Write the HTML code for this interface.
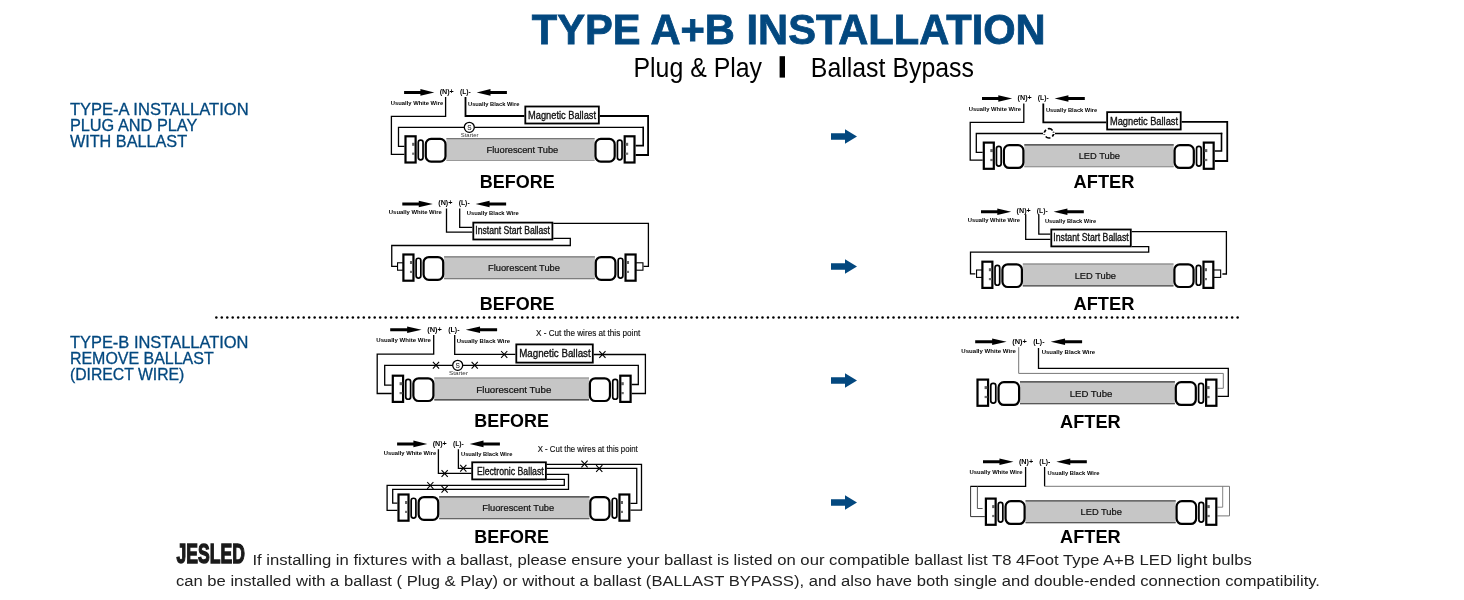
<!DOCTYPE html>
<html><head><meta charset="utf-8"><title>Type A+B Installation</title>
<style>
html,body{margin:0;padding:0;background:#fff;}
body{width:1464px;height:600px;overflow:hidden;position:relative;font-family:"Liberation Sans",sans-serif;}
svg{position:absolute;left:0;top:0;display:block;will-change:transform;}
svg text{font-family:"Liberation Sans",sans-serif;}
</style></head><body>
<svg width="1464" height="600" viewBox="0 0 1464 600">
<rect width="1464" height="600" fill="#fff"/>

<text x="531.7" y="44.2" font-size="42.3" font-weight="bold" fill="#03487f" textLength="514" lengthAdjust="spacingAndGlyphs" stroke="#03487f" stroke-width="0.8">TYPE A+B INSTALLATION</text>
<text x="633.5" y="77" font-size="27.5" fill="#000" textLength="128.5" lengthAdjust="spacingAndGlyphs">Plug &amp; Play</text>
<rect x="779.6" y="56.2" width="5.4" height="21.4" fill="#000"/>
<text x="810.8" y="77" font-size="27.5" fill="#000" textLength="163.2" lengthAdjust="spacingAndGlyphs">Ballast Bypass</text>
<text x="69.9" y="114.8" font-size="16.4" fill="#03487f" textLength="178.7" lengthAdjust="spacingAndGlyphs" stroke="#03487f" stroke-width="0.3">TYPE-A INSTALLATION</text>
<text x="69.9" y="130.85" font-size="16.4" fill="#03487f" textLength="127.5" lengthAdjust="spacingAndGlyphs" stroke="#03487f" stroke-width="0.3">PLUG AND PLAY</text>
<text x="69.9" y="146.9" font-size="16.4" fill="#03487f" textLength="117.2" lengthAdjust="spacingAndGlyphs" stroke="#03487f" stroke-width="0.3">WITH BALLAST</text>
<text x="69.9" y="347.8" font-size="16.4" fill="#03487f" textLength="178.6" lengthAdjust="spacingAndGlyphs" stroke="#03487f" stroke-width="0.3">TYPE-B INSTALLATION</text>
<text x="69.9" y="363.85" font-size="16.4" fill="#03487f" textLength="143.8" lengthAdjust="spacingAndGlyphs" stroke="#03487f" stroke-width="0.3">REMOVE BALLAST</text>
<text x="69.9" y="379.9" font-size="16.4" fill="#03487f" textLength="114.4" lengthAdjust="spacingAndGlyphs" stroke="#03487f" stroke-width="0.3">(DIRECT WIRE)</text>
<g fill="#000"><circle cx="216.33" cy="317.4" r="1.25"/><circle cx="221.79" cy="317.4" r="1.25"/><circle cx="227.25" cy="317.4" r="1.25"/><circle cx="232.71" cy="317.4" r="1.25"/><circle cx="238.18" cy="317.4" r="1.25"/><circle cx="243.64" cy="317.4" r="1.25"/><circle cx="249.1" cy="317.4" r="1.25"/><circle cx="254.56" cy="317.4" r="1.25"/><circle cx="260.02" cy="317.4" r="1.25"/><circle cx="265.48" cy="317.4" r="1.25"/><circle cx="270.94" cy="317.4" r="1.25"/><circle cx="276.4" cy="317.4" r="1.25"/><circle cx="281.87" cy="317.4" r="1.25"/><circle cx="287.33" cy="317.4" r="1.25"/><circle cx="292.79" cy="317.4" r="1.25"/><circle cx="298.25" cy="317.4" r="1.25"/><circle cx="303.71" cy="317.4" r="1.25"/><circle cx="309.17" cy="317.4" r="1.25"/><circle cx="314.63" cy="317.4" r="1.25"/><circle cx="320.1" cy="317.4" r="1.25"/><circle cx="325.56" cy="317.4" r="1.25"/><circle cx="331.02" cy="317.4" r="1.25"/><circle cx="336.48" cy="317.4" r="1.25"/><circle cx="341.94" cy="317.4" r="1.25"/><circle cx="347.4" cy="317.4" r="1.25"/><circle cx="352.86" cy="317.4" r="1.25"/><circle cx="358.32" cy="317.4" r="1.25"/><circle cx="363.79" cy="317.4" r="1.25"/><circle cx="369.25" cy="317.4" r="1.25"/><circle cx="374.71" cy="317.4" r="1.25"/><circle cx="380.17" cy="317.4" r="1.25"/><circle cx="385.63" cy="317.4" r="1.25"/><circle cx="391.09" cy="317.4" r="1.25"/><circle cx="396.55" cy="317.4" r="1.25"/><circle cx="402.02" cy="317.4" r="1.25"/><circle cx="407.48" cy="317.4" r="1.25"/><circle cx="412.94" cy="317.4" r="1.25"/><circle cx="418.4" cy="317.4" r="1.25"/><circle cx="423.86" cy="317.4" r="1.25"/><circle cx="429.32" cy="317.4" r="1.25"/><circle cx="434.78" cy="317.4" r="1.25"/><circle cx="440.24" cy="317.4" r="1.25"/><circle cx="445.71" cy="317.4" r="1.25"/><circle cx="451.17" cy="317.4" r="1.25"/><circle cx="456.63" cy="317.4" r="1.25"/><circle cx="462.09" cy="317.4" r="1.25"/><circle cx="467.55" cy="317.4" r="1.25"/><circle cx="473.01" cy="317.4" r="1.25"/><circle cx="478.47" cy="317.4" r="1.25"/><circle cx="483.94" cy="317.4" r="1.25"/><circle cx="489.4" cy="317.4" r="1.25"/><circle cx="494.86" cy="317.4" r="1.25"/><circle cx="500.32" cy="317.4" r="1.25"/><circle cx="505.78" cy="317.4" r="1.25"/><circle cx="511.24" cy="317.4" r="1.25"/><circle cx="516.7" cy="317.4" r="1.25"/><circle cx="522.16" cy="317.4" r="1.25"/><circle cx="527.63" cy="317.4" r="1.25"/><circle cx="533.09" cy="317.4" r="1.25"/><circle cx="538.55" cy="317.4" r="1.25"/><circle cx="544.01" cy="317.4" r="1.25"/><circle cx="549.47" cy="317.4" r="1.25"/><circle cx="554.93" cy="317.4" r="1.25"/><circle cx="560.39" cy="317.4" r="1.25"/><circle cx="565.86" cy="317.4" r="1.25"/><circle cx="571.32" cy="317.4" r="1.25"/><circle cx="576.78" cy="317.4" r="1.25"/><circle cx="582.24" cy="317.4" r="1.25"/><circle cx="587.7" cy="317.4" r="1.25"/><circle cx="593.16" cy="317.4" r="1.25"/><circle cx="598.62" cy="317.4" r="1.25"/><circle cx="604.08" cy="317.4" r="1.25"/><circle cx="609.55" cy="317.4" r="1.25"/><circle cx="615.01" cy="317.4" r="1.25"/><circle cx="620.47" cy="317.4" r="1.25"/><circle cx="625.93" cy="317.4" r="1.25"/><circle cx="631.39" cy="317.4" r="1.25"/><circle cx="636.85" cy="317.4" r="1.25"/><circle cx="642.31" cy="317.4" r="1.25"/><circle cx="647.78" cy="317.4" r="1.25"/><circle cx="653.24" cy="317.4" r="1.25"/><circle cx="658.7" cy="317.4" r="1.25"/><circle cx="664.16" cy="317.4" r="1.25"/><circle cx="669.62" cy="317.4" r="1.25"/><circle cx="675.08" cy="317.4" r="1.25"/><circle cx="680.54" cy="317.4" r="1.25"/><circle cx="686" cy="317.4" r="1.25"/><circle cx="691.47" cy="317.4" r="1.25"/><circle cx="696.93" cy="317.4" r="1.25"/><circle cx="702.39" cy="317.4" r="1.25"/><circle cx="707.85" cy="317.4" r="1.25"/><circle cx="713.31" cy="317.4" r="1.25"/><circle cx="718.77" cy="317.4" r="1.25"/><circle cx="724.23" cy="317.4" r="1.25"/><circle cx="729.7" cy="317.4" r="1.25"/><circle cx="735.16" cy="317.4" r="1.25"/><circle cx="740.62" cy="317.4" r="1.25"/><circle cx="746.08" cy="317.4" r="1.25"/><circle cx="751.54" cy="317.4" r="1.25"/><circle cx="757" cy="317.4" r="1.25"/><circle cx="762.46" cy="317.4" r="1.25"/><circle cx="767.93" cy="317.4" r="1.25"/><circle cx="773.39" cy="317.4" r="1.25"/><circle cx="778.85" cy="317.4" r="1.25"/><circle cx="784.31" cy="317.4" r="1.25"/><circle cx="789.77" cy="317.4" r="1.25"/><circle cx="795.23" cy="317.4" r="1.25"/><circle cx="800.69" cy="317.4" r="1.25"/><circle cx="806.15" cy="317.4" r="1.25"/><circle cx="811.62" cy="317.4" r="1.25"/><circle cx="817.08" cy="317.4" r="1.25"/><circle cx="822.54" cy="317.4" r="1.25"/><circle cx="828" cy="317.4" r="1.25"/><circle cx="833.46" cy="317.4" r="1.25"/><circle cx="838.92" cy="317.4" r="1.25"/><circle cx="844.38" cy="317.4" r="1.25"/><circle cx="849.85" cy="317.4" r="1.25"/><circle cx="855.31" cy="317.4" r="1.25"/><circle cx="860.77" cy="317.4" r="1.25"/><circle cx="866.23" cy="317.4" r="1.25"/><circle cx="871.69" cy="317.4" r="1.25"/><circle cx="877.15" cy="317.4" r="1.25"/><circle cx="882.61" cy="317.4" r="1.25"/><circle cx="888.07" cy="317.4" r="1.25"/><circle cx="893.54" cy="317.4" r="1.25"/><circle cx="899" cy="317.4" r="1.25"/><circle cx="904.46" cy="317.4" r="1.25"/><circle cx="909.92" cy="317.4" r="1.25"/><circle cx="915.38" cy="317.4" r="1.25"/><circle cx="920.84" cy="317.4" r="1.25"/><circle cx="926.3" cy="317.4" r="1.25"/><circle cx="931.77" cy="317.4" r="1.25"/><circle cx="937.23" cy="317.4" r="1.25"/><circle cx="942.69" cy="317.4" r="1.25"/><circle cx="948.15" cy="317.4" r="1.25"/><circle cx="953.61" cy="317.4" r="1.25"/><circle cx="959.07" cy="317.4" r="1.25"/><circle cx="964.53" cy="317.4" r="1.25"/><circle cx="969.99" cy="317.4" r="1.25"/><circle cx="975.46" cy="317.4" r="1.25"/><circle cx="980.92" cy="317.4" r="1.25"/><circle cx="986.38" cy="317.4" r="1.25"/><circle cx="991.84" cy="317.4" r="1.25"/><circle cx="997.3" cy="317.4" r="1.25"/><circle cx="1002.76" cy="317.4" r="1.25"/><circle cx="1008.22" cy="317.4" r="1.25"/><circle cx="1013.69" cy="317.4" r="1.25"/><circle cx="1019.15" cy="317.4" r="1.25"/><circle cx="1024.61" cy="317.4" r="1.25"/><circle cx="1030.07" cy="317.4" r="1.25"/><circle cx="1035.53" cy="317.4" r="1.25"/><circle cx="1040.99" cy="317.4" r="1.25"/><circle cx="1046.45" cy="317.4" r="1.25"/><circle cx="1051.91" cy="317.4" r="1.25"/><circle cx="1057.38" cy="317.4" r="1.25"/><circle cx="1062.84" cy="317.4" r="1.25"/><circle cx="1068.3" cy="317.4" r="1.25"/><circle cx="1073.76" cy="317.4" r="1.25"/><circle cx="1079.22" cy="317.4" r="1.25"/><circle cx="1084.68" cy="317.4" r="1.25"/><circle cx="1090.14" cy="317.4" r="1.25"/><circle cx="1095.61" cy="317.4" r="1.25"/><circle cx="1101.07" cy="317.4" r="1.25"/><circle cx="1106.53" cy="317.4" r="1.25"/><circle cx="1111.99" cy="317.4" r="1.25"/><circle cx="1117.45" cy="317.4" r="1.25"/><circle cx="1122.91" cy="317.4" r="1.25"/><circle cx="1128.37" cy="317.4" r="1.25"/><circle cx="1133.83" cy="317.4" r="1.25"/><circle cx="1139.3" cy="317.4" r="1.25"/><circle cx="1144.76" cy="317.4" r="1.25"/><circle cx="1150.22" cy="317.4" r="1.25"/><circle cx="1155.68" cy="317.4" r="1.25"/><circle cx="1161.14" cy="317.4" r="1.25"/><circle cx="1166.6" cy="317.4" r="1.25"/><circle cx="1172.06" cy="317.4" r="1.25"/><circle cx="1177.53" cy="317.4" r="1.25"/><circle cx="1182.99" cy="317.4" r="1.25"/><circle cx="1188.45" cy="317.4" r="1.25"/><circle cx="1193.91" cy="317.4" r="1.25"/><circle cx="1199.37" cy="317.4" r="1.25"/><circle cx="1204.83" cy="317.4" r="1.25"/><circle cx="1210.29" cy="317.4" r="1.25"/><circle cx="1215.75" cy="317.4" r="1.25"/><circle cx="1221.22" cy="317.4" r="1.25"/><circle cx="1226.68" cy="317.4" r="1.25"/><circle cx="1232.14" cy="317.4" r="1.25"/><circle cx="1237.6" cy="317.4" r="1.25"/></g>
<path d="M831 133.2 H845 V129.25 L857 136.5 L845 143.75 V139.8 H831 Z" fill="#03487f"/>
<path d="M831 263.2 H845 V259.25 L857 266.5 L845 273.75 V269.8 H831 Z" fill="#03487f"/>
<path d="M831 377.2 H845 V373.25 L857 380.5 L845 387.75 V383.8 H831 Z" fill="#03487f"/>
<path d="M831 499.2 H845 V495.25 L857 502.5 L845 509.75 V505.8 H831 Z" fill="#03487f"/>
<path d="M445.6 97 L445.6 116.3 L391.4 116.3 L391.4 154.3 L404.4 154.3" fill="none" stroke="#000" stroke-width="1.3" stroke-linejoin="miter" stroke-linecap="butt"/>
<path d="M465.5 97 L465.5 116 L524.4 116" fill="none" stroke="#000" stroke-width="1.8" stroke-linejoin="miter" stroke-linecap="butt"/>
<path d="M599.75 116 L648.1 116 L648.1 155 L635.6 155" fill="none" stroke="#000" stroke-width="1.8" stroke-linejoin="miter" stroke-linecap="butt"/>
<path d="M404.4 146.3 L398.5 146.3 L398.5 127.4 L644 127.4" fill="none" stroke="#000" stroke-width="1.3" stroke-linejoin="miter" stroke-linecap="butt"/>
<path d="M643.2 126.75 L643.2 145.6 L635.6 145.6" fill="none" stroke="#000" stroke-width="1.6" stroke-linejoin="miter" stroke-linecap="butt"/>
<rect x="446.4" y="138.2" width="148.2" height="22.6" fill="#c6c6c6"/>
<line x1="446.4" y1="138.6" x2="594.6" y2="138.6" stroke="#777" stroke-width="1.2"/>
<line x1="446.4" y1="160.5" x2="594.6" y2="160.5" stroke="#999" stroke-width="1.1"/>
<rect x="405.5" y="136.3" width="10.12" height="26.2" fill="#fff" stroke="#000" stroke-width="2.2"/>
<rect x="412.12" y="142.8" width="2.8" height="3" fill="#606060"/>
<rect x="412.12" y="152.6" width="2.8" height="2.2" fill="#707070"/>
<rect x="418.27" y="140.05" width="4.76" height="19.8" rx="2.3" fill="#fff" stroke="#000" stroke-width="1.7"/>
<rect x="425.79" y="138.9" width="19.71" height="22.7" rx="5.3" fill="#fff" stroke="#000" stroke-width="2.2"/>
<rect x="624.68" y="136.3" width="9.82" height="26.2" fill="#fff" stroke="#000" stroke-width="2.2"/>
<rect x="625.38" y="142.8" width="2.8" height="3" fill="#606060"/>
<rect x="625.38" y="152.6" width="2.8" height="2.2" fill="#707070"/>
<rect x="617.43" y="140.05" width="4.61" height="19.8" rx="2.3" fill="#fff" stroke="#000" stroke-width="1.7"/>
<rect x="595.5" y="138.9" width="19.19" height="22.7" rx="5.3" fill="#fff" stroke="#000" stroke-width="2.2"/>
<text x="486.6" y="152.7" font-size="8.8" fill="#111" textLength="71.7" lengthAdjust="spacingAndGlyphs" stroke="#111" stroke-width="0.2">Fluorescent Tube</text>
<g transform="translate(404.1 92.4) scale(1 1)">
<path d="M0 -1.5 H16.3 V-3.3 L30.2 0 L16.3 3.3 V1.5 H0 Z" fill="#000"/>
<path d="M102.8 -1.5 H86.4 V-3.3 L72.6 0 L86.4 3.3 V1.5 H102.8 Z" fill="#000"/>
<text x="35.6" y="1.8" font-size="7.6" font-weight="bold" fill="#000" textLength="14.1" lengthAdjust="spacingAndGlyphs">(N)+</text>
<text x="55.8" y="1.8" font-size="7.6" font-weight="bold" fill="#000" textLength="10.9" lengthAdjust="spacingAndGlyphs">(L)-</text>
<text x="-13.3" y="12.7" font-size="5.9" font-weight="bold" fill="#000" textLength="52.4" lengthAdjust="spacingAndGlyphs">Usually White Wire</text>
<text x="63.9" y="13.5" font-size="5.9" font-weight="bold" fill="#000" textLength="51.4" lengthAdjust="spacingAndGlyphs">Usually Black Wire</text>
</g>
<rect x="525.3" y="106.5" width="73.55" height="17" fill="#fff" stroke="#000" stroke-width="1.8"/>
<text x="528.1" y="118.75" font-size="11" fill="#111" textLength="67.9" lengthAdjust="spacingAndGlyphs" stroke="#111" stroke-width="0.35">Magnetic Ballast</text>
<circle cx="469.3" cy="127.3" r="5" fill="#fff" stroke="#000" stroke-width="1.3"/>
<text x="469.3" y="129.6" font-size="6.5" fill="#000" text-anchor="middle">S</text>
<text x="460.8" y="136.6" font-size="5.2" fill="#333" textLength="17.7" lengthAdjust="spacingAndGlyphs">Starter</text>
<text x="479.8" y="188.4" font-size="19.2" font-weight="bold" fill="#000" textLength="74.9" lengthAdjust="spacingAndGlyphs">BEFORE</text>
<path d="M1023.8 103.5 L1023.8 122.3 L970.2 122.3 L970.2 160.1 L982.7 160.1" fill="none" stroke="#000" stroke-width="1.3" stroke-linejoin="miter" stroke-linecap="butt"/>
<path d="M1043.3 103.5 L1043.3 122.3 L1106.25 122.3" fill="none" stroke="#000" stroke-width="1.8" stroke-linejoin="miter" stroke-linecap="butt"/>
<path d="M1181.6 121.9 L1227.25 121.9 L1227.25 161 L1214.75 161" fill="none" stroke="#000" stroke-width="1.8" stroke-linejoin="miter" stroke-linecap="butt"/>
<path d="M982.7 152.3 L976.3 152.3 L976.3 133.5 L1222.3 133.5" fill="none" stroke="#000" stroke-width="1.3" stroke-linejoin="miter" stroke-linecap="butt"/>
<path d="M1221.5 132.85 L1221.5 151 L1214.75 151" fill="none" stroke="#000" stroke-width="1.6" stroke-linejoin="miter" stroke-linecap="butt"/>
<rect x="1024.3" y="144.5" width="149.4" height="22.6" fill="#c6c6c6"/>
<line x1="1024.3" y1="144.9" x2="1173.7" y2="144.9" stroke="#333" stroke-width="1.2"/>
<line x1="1024.3" y1="166.8" x2="1173.7" y2="166.8" stroke="#888" stroke-width="1.1"/>
<rect x="983.8" y="142.6" width="10" height="26.2" fill="#fff" stroke="#000" stroke-width="2.2"/>
<rect x="990.3" y="149.1" width="2.8" height="3" fill="#606060"/>
<rect x="990.3" y="158.9" width="2.8" height="2.2" fill="#707070"/>
<rect x="996.45" y="146.35" width="4.7" height="19.8" rx="2.3" fill="#fff" stroke="#000" stroke-width="1.7"/>
<rect x="1003.9" y="145.2" width="19.5" height="22.7" rx="5.3" fill="#fff" stroke="#000" stroke-width="2.2"/>
<rect x="1203.81" y="142.6" width="9.84" height="26.2" fill="#fff" stroke="#000" stroke-width="2.2"/>
<rect x="1204.51" y="149.1" width="2.8" height="3" fill="#606060"/>
<rect x="1204.51" y="158.9" width="2.8" height="2.2" fill="#707070"/>
<rect x="1196.55" y="146.35" width="4.62" height="19.8" rx="2.3" fill="#fff" stroke="#000" stroke-width="1.7"/>
<rect x="1174.6" y="145.2" width="19.21" height="22.7" rx="5.3" fill="#fff" stroke="#000" stroke-width="2.2"/>
<text x="1078.7" y="158.9" font-size="8.8" fill="#111" textLength="41.3" lengthAdjust="spacingAndGlyphs" stroke="#111" stroke-width="0.2">LED Tube</text>
<g transform="translate(982 98.5) scale(1 1)">
<path d="M0 -1.5 H16.3 V-3.3 L30.2 0 L16.3 3.3 V1.5 H0 Z" fill="#000"/>
<path d="M102.8 -1.5 H86.4 V-3.3 L72.6 0 L86.4 3.3 V1.5 H102.8 Z" fill="#000"/>
<text x="35.6" y="1.8" font-size="7.6" font-weight="bold" fill="#000" textLength="14.1" lengthAdjust="spacingAndGlyphs">(N)+</text>
<text x="55.8" y="1.8" font-size="7.6" font-weight="bold" fill="#000" textLength="10.9" lengthAdjust="spacingAndGlyphs">(L)-</text>
<text x="-13.3" y="12.3" font-size="5.9" font-weight="bold" fill="#000" textLength="52.4" lengthAdjust="spacingAndGlyphs">Usually White Wire</text>
<text x="63.9" y="13.2" font-size="5.9" font-weight="bold" fill="#000" textLength="51.4" lengthAdjust="spacingAndGlyphs">Usually Black Wire</text>
</g>
<rect x="1107.15" y="112.15" width="73.55" height="17.35" fill="#fff" stroke="#000" stroke-width="1.8"/>
<text x="1110" y="124.6" font-size="11" fill="#111" textLength="68" lengthAdjust="spacingAndGlyphs" stroke="#111" stroke-width="0.35">Magnetic Ballast</text>
<circle cx="1049" cy="133.3" r="4.6" fill="#fff" stroke="#000" stroke-width="1.6" stroke-dasharray="5 2.2" transform="rotate(-20 1049 133.3)"/>
<rect x="1043" y="132.6" width="12" height="1.4" fill="#fff"/>
<text x="1073.6" y="188.4" font-size="19.2" font-weight="bold" fill="#000" textLength="60.8" lengthAdjust="spacingAndGlyphs">AFTER</text>
<path d="M446.5 208.5 L446.5 232.2 L472.3 232.2" fill="none" stroke="#000" stroke-width="1.3" stroke-linejoin="miter" stroke-linecap="butt"/>
<path d="M459.7 208.5 L459.7 227.3 L472.3 227.3" fill="none" stroke="#000" stroke-width="1.3" stroke-linejoin="miter" stroke-linecap="butt"/>
<path d="M553.3 223.3 L648.4 223.3 L648.4 266.3 L643.5 266.3" fill="none" stroke="#000" stroke-width="1.3" stroke-linejoin="miter" stroke-linecap="butt"/>
<path d="M553.3 238.4 L570.3 238.4 L570.3 245.5 L391.75 245.5 L391.75 266.3 L397 266.3" fill="none" stroke="#000" stroke-width="1.3" stroke-linejoin="miter" stroke-linecap="butt"/>
<rect x="444.1" y="256.4" width="150.8" height="22.6" fill="#c6c6c6"/>
<line x1="444.1" y1="256.8" x2="594.9" y2="256.8" stroke="#777" stroke-width="1.2"/>
<line x1="444.1" y1="278.7" x2="594.9" y2="278.7" stroke="#666" stroke-width="1.1"/>
<rect x="403.4" y="254.5" width="10.06" height="26.2" fill="#fff" stroke="#000" stroke-width="2.2"/>
<rect x="409.96" y="261" width="2.8" height="3" fill="#606060"/>
<rect x="409.96" y="270.8" width="2.8" height="2.2" fill="#707070"/>
<rect x="416.11" y="258.25" width="4.73" height="19.8" rx="2.3" fill="#fff" stroke="#000" stroke-width="1.7"/>
<rect x="423.6" y="257.1" width="19.6" height="22.7" rx="5.3" fill="#fff" stroke="#000" stroke-width="2.2"/>
<rect x="625.54" y="254.5" width="10.06" height="26.2" fill="#fff" stroke="#000" stroke-width="2.2"/>
<rect x="626.24" y="261" width="2.8" height="3" fill="#606060"/>
<rect x="626.24" y="270.8" width="2.8" height="2.2" fill="#707070"/>
<rect x="618.16" y="258.25" width="4.73" height="19.8" rx="2.3" fill="#fff" stroke="#000" stroke-width="1.7"/>
<rect x="595.8" y="257.1" width="19.6" height="22.7" rx="5.3" fill="#fff" stroke="#000" stroke-width="2.2"/>
<rect x="397.55" y="262.8" width="5.3" height="7.4" fill="#fff" stroke="#000" stroke-width="1.1"/>
<rect x="636.15" y="262.8" width="6.8" height="7.4" fill="#fff" stroke="#000" stroke-width="1.1"/>
<text x="488" y="271" font-size="8.8" fill="#111" textLength="72" lengthAdjust="spacingAndGlyphs" stroke="#111" stroke-width="0.2">Fluorescent Tube</text>
<g transform="translate(402.3 204) scale(1.01 1)">
<path d="M0 -1.5 H16.3 V-3.3 L30.2 0 L16.3 3.3 V1.5 H0 Z" fill="#000"/>
<path d="M102.8 -1.5 H86.4 V-3.3 L72.6 0 L86.4 3.3 V1.5 H102.8 Z" fill="#000"/>
<text x="35.6" y="1.3" font-size="7.6" font-weight="bold" fill="#000" textLength="14.1" lengthAdjust="spacingAndGlyphs">(N)+</text>
<text x="55.8" y="1.3" font-size="7.6" font-weight="bold" fill="#000" textLength="10.9" lengthAdjust="spacingAndGlyphs">(L)-</text>
<text x="-13.3" y="10.4" font-size="5.9" font-weight="bold" fill="#000" textLength="52.4" lengthAdjust="spacingAndGlyphs">Usually White Wire</text>
<text x="63.9" y="11.1" font-size="5.9" font-weight="bold" fill="#000" textLength="51.4" lengthAdjust="spacingAndGlyphs">Usually Black Wire</text>
</g>
<rect x="473.3" y="222.6" width="79.1" height="16.9" fill="#fff" stroke="#000" stroke-width="1.8"/>
<text x="475.3" y="234" font-size="10.2" fill="#111" textLength="74.7" lengthAdjust="spacingAndGlyphs" stroke="#111" stroke-width="0.35">Instant Start Ballast</text>
<text x="479.8" y="310" font-size="19.2" font-weight="bold" fill="#000" textLength="74.8" lengthAdjust="spacingAndGlyphs">BEFORE</text>
<path d="M1025.7 214.3 L1025.7 239.3 L1050.4 239.3" fill="none" stroke="#000" stroke-width="1.3" stroke-linejoin="miter" stroke-linecap="butt"/>
<path d="M1038.8 214.3 L1038.8 234.2 L1050.4 234.2" fill="none" stroke="#000" stroke-width="1.3" stroke-linejoin="miter" stroke-linecap="butt"/>
<path d="M1131.7 231.7 L1226.4 231.7 L1226.4 274 L1222.4 274" fill="none" stroke="#000" stroke-width="1.3" stroke-linejoin="miter" stroke-linecap="butt"/>
<path d="M1131.7 246.7 L1148.7 246.7 L1148.7 252.2 L970.5 252.2 L970.5 273.8 L975.3 273.8" fill="none" stroke="#000" stroke-width="1.3" stroke-linejoin="miter" stroke-linecap="butt"/>
<rect x="1022.8" y="263.6" width="150.7" height="22.6" fill="#c6c6c6"/>
<line x1="1022.8" y1="264" x2="1173.5" y2="264" stroke="#777" stroke-width="1.2"/>
<line x1="1022.8" y1="285.9" x2="1173.5" y2="285.9" stroke="#444" stroke-width="1.1"/>
<rect x="982.4" y="261.7" width="9.97" height="26.2" fill="#fff" stroke="#000" stroke-width="2.2"/>
<rect x="988.87" y="268.2" width="2.8" height="3" fill="#606060"/>
<rect x="988.87" y="278" width="2.8" height="2.2" fill="#707070"/>
<rect x="995.02" y="265.45" width="4.68" height="19.8" rx="2.3" fill="#fff" stroke="#000" stroke-width="1.7"/>
<rect x="1002.45" y="264.3" width="19.45" height="22.7" rx="5.3" fill="#fff" stroke="#000" stroke-width="2.2"/>
<rect x="1203.5" y="261.7" width="9.8" height="26.2" fill="#fff" stroke="#000" stroke-width="2.2"/>
<rect x="1204.2" y="268.2" width="2.8" height="3" fill="#606060"/>
<rect x="1204.2" y="278" width="2.8" height="2.2" fill="#707070"/>
<rect x="1196.27" y="265.45" width="4.59" height="19.8" rx="2.3" fill="#fff" stroke="#000" stroke-width="1.7"/>
<rect x="1174.4" y="264.3" width="19.14" height="22.7" rx="5.3" fill="#fff" stroke="#000" stroke-width="2.2"/>
<rect x="976.55" y="270" width="5.3" height="7.4" fill="#fff" stroke="#000" stroke-width="1.1"/>
<rect x="1213.85" y="270" width="6.8" height="7.4" fill="#fff" stroke="#000" stroke-width="1.1"/>
<text x="1074.7" y="278.7" font-size="8.8" fill="#111" textLength="41.3" lengthAdjust="spacingAndGlyphs" stroke="#111" stroke-width="0.2">LED Tube</text>
<g transform="translate(981 211.7) scale(1 1)">
<path d="M0 -1.5 H16.3 V-3.3 L30.2 0 L16.3 3.3 V1.5 H0 Z" fill="#000"/>
<path d="M102.8 -1.5 H86.4 V-3.3 L72.6 0 L86.4 3.3 V1.5 H102.8 Z" fill="#000"/>
<text x="35.6" y="0.9" font-size="7.6" font-weight="bold" fill="#000" textLength="14.1" lengthAdjust="spacingAndGlyphs">(N)+</text>
<text x="55.8" y="0.9" font-size="7.6" font-weight="bold" fill="#000" textLength="10.9" lengthAdjust="spacingAndGlyphs">(L)-</text>
<text x="-13.3" y="10.2" font-size="5.9" font-weight="bold" fill="#000" textLength="52.4" lengthAdjust="spacingAndGlyphs">Usually White Wire</text>
<text x="63.9" y="11.1" font-size="5.9" font-weight="bold" fill="#000" textLength="51.4" lengthAdjust="spacingAndGlyphs">Usually Black Wire</text>
</g>
<rect x="1051.3" y="229.5" width="79.5" height="16.9" fill="#fff" stroke="#000" stroke-width="1.8"/>
<text x="1053.3" y="241" font-size="10.2" fill="#111" textLength="75.4" lengthAdjust="spacingAndGlyphs" stroke="#111" stroke-width="0.35">Instant Start Ballast</text>
<text x="1073.5" y="310.3" font-size="19.2" font-weight="bold" fill="#000" textLength="60.9" lengthAdjust="spacingAndGlyphs">AFTER</text>
<path d="M433.7 335 L433.7 354.2 L377.2 354.2 L377.2 393.5 L391.7 393.5" fill="none" stroke="#000" stroke-width="1.3" stroke-linejoin="miter" stroke-linecap="butt"/>
<path d="M454.7 335 L454.7 354.4 L515.4 354.4" fill="none" stroke="#000" stroke-width="1.3" stroke-linejoin="miter" stroke-linecap="butt"/>
<path d="M593.7 354.5 L645.4 354.5 L645.4 393.5 L631.7 393.5" fill="none" stroke="#000" stroke-width="1.3" stroke-linejoin="miter" stroke-linecap="butt"/>
<path d="M391.7 385.2 L384.7 385.2 L384.7 365.3 L638.3 365.3 L638.3 384.5 L631.7 384.5" fill="none" stroke="#000" stroke-width="1.3" stroke-linejoin="miter" stroke-linecap="butt"/>
<rect x="434.3" y="377.6" width="154.7" height="22.6" fill="#c6c6c6"/>
<line x1="434.3" y1="378" x2="589" y2="378" stroke="#888" stroke-width="1.2"/>
<line x1="434.3" y1="399.9" x2="589" y2="399.9" stroke="#333" stroke-width="1.1"/>
<rect x="392.8" y="375.7" width="10.29" height="26.2" fill="#fff" stroke="#000" stroke-width="2.2"/>
<rect x="399.59" y="382.2" width="2.8" height="3" fill="#606060"/>
<rect x="399.59" y="392" width="2.8" height="2.2" fill="#707070"/>
<rect x="405.76" y="379.45" width="4.85" height="19.8" rx="2.3" fill="#fff" stroke="#000" stroke-width="1.7"/>
<rect x="413.38" y="378.3" width="20.02" height="22.7" rx="5.3" fill="#fff" stroke="#000" stroke-width="2.2"/>
<rect x="620.28" y="375.7" width="10.32" height="26.2" fill="#fff" stroke="#000" stroke-width="2.2"/>
<rect x="620.98" y="382.2" width="2.8" height="3" fill="#606060"/>
<rect x="620.98" y="392" width="2.8" height="2.2" fill="#707070"/>
<rect x="612.74" y="379.45" width="4.87" height="19.8" rx="2.3" fill="#fff" stroke="#000" stroke-width="1.7"/>
<rect x="589.9" y="378.3" width="20.07" height="22.7" rx="5.3" fill="#fff" stroke="#000" stroke-width="2.2"/>
<text x="476.3" y="393" font-size="8.8" fill="#111" textLength="75" lengthAdjust="spacingAndGlyphs" stroke="#111" stroke-width="0.2">Fluorescent Tube</text>
<g transform="translate(390.2 329.75) scale(1.04 1)">
<path d="M0 -1.5 H16.3 V-3.3 L30.2 0 L16.3 3.3 V1.5 H0 Z" fill="#000"/>
<path d="M102.8 -1.5 H86.4 V-3.3 L72.6 0 L86.4 3.3 V1.5 H102.8 Z" fill="#000"/>
<text x="35.6" y="1.8" font-size="7.6" font-weight="bold" fill="#000" textLength="14.1" lengthAdjust="spacingAndGlyphs">(N)+</text>
<text x="55.8" y="1.8" font-size="7.6" font-weight="bold" fill="#000" textLength="10.9" lengthAdjust="spacingAndGlyphs">(L)-</text>
<text x="-13.3" y="12.25" font-size="5.9" font-weight="bold" fill="#000" textLength="52.4" lengthAdjust="spacingAndGlyphs">Usually White Wire</text>
<text x="63.9" y="13.35" font-size="5.9" font-weight="bold" fill="#000" textLength="51.4" lengthAdjust="spacingAndGlyphs">Usually Black Wire</text>
</g>
<rect x="516.3" y="344.4" width="76.5" height="18.2" fill="#fff" stroke="#000" stroke-width="1.8"/>
<text x="519.2" y="356.7" font-size="11" fill="#111" textLength="71.5" lengthAdjust="spacingAndGlyphs" stroke="#111" stroke-width="0.35">Magnetic Ballast</text>
<circle cx="457.7" cy="365.3" r="5" fill="#fff" stroke="#000" stroke-width="1.3"/>
<text x="457.7" y="367.6" font-size="6.5" fill="#000" text-anchor="middle">S</text>
<text x="449" y="374.6" font-size="5.2" fill="#333" textLength="19" lengthAdjust="spacingAndGlyphs">Starter</text>
<path d="M501.1 351 L507.3 357.8 M507.3 351 L501.1 357.8" stroke="#000" stroke-width="1.1" fill="none"/>
<path d="M599.3 351.1 L605.5 357.9 M605.5 351.1 L599.3 357.9" stroke="#000" stroke-width="1.1" fill="none"/>
<path d="M432.9 361.9 L439.1 368.7 M439.1 361.9 L432.9 368.7" stroke="#000" stroke-width="1.1" fill="none"/>
<path d="M471.6 361.9 L477.8 368.7 M477.8 361.9 L471.6 368.7" stroke="#000" stroke-width="1.1" fill="none"/>
<text x="536" y="335.6" font-size="8.6" fill="#111" textLength="104.2" lengthAdjust="spacingAndGlyphs" stroke="#111" stroke-width="0.15">X - Cut the wires at this point</text>
<text x="474.3" y="427.1" font-size="19.2" font-weight="bold" fill="#000" textLength="74.6" lengthAdjust="spacingAndGlyphs">BEFORE</text>
<path d="M1018.7 347.2 L1018.7 373.4 L1223.3 373.4 L1223.3 388.3 L1217.5 388.3" fill="none" stroke="#777" stroke-width="1" stroke-linejoin="miter" stroke-linecap="butt"/>
<path d="M1038.5 348 L1038.5 368.3 L1228.3 368.3 L1228.3 396.3 L1217.5 396.3" fill="none" stroke="#000" stroke-width="1.3" stroke-linejoin="miter" stroke-linecap="butt"/>
<rect x="1020" y="381.5" width="154.9" height="22.6" fill="#c6c6c6"/>
<line x1="1020" y1="381.9" x2="1174.9" y2="381.9" stroke="#333" stroke-width="1.2"/>
<line x1="1020" y1="403.8" x2="1174.9" y2="403.8" stroke="#333" stroke-width="1.1"/>
<rect x="977.5" y="379.6" width="10.58" height="26.2" fill="#fff" stroke="#000" stroke-width="2.2"/>
<rect x="984.58" y="386.1" width="2.8" height="3" fill="#606060"/>
<rect x="984.58" y="395.9" width="2.8" height="2.2" fill="#707070"/>
<rect x="990.77" y="383.35" width="5.01" height="19.8" rx="2.3" fill="#fff" stroke="#000" stroke-width="1.7"/>
<rect x="998.56" y="382.2" width="20.54" height="22.7" rx="5.3" fill="#fff" stroke="#000" stroke-width="2.2"/>
<rect x="1206.11" y="379.6" width="10.29" height="26.2" fill="#fff" stroke="#000" stroke-width="2.2"/>
<rect x="1206.81" y="386.1" width="2.8" height="3" fill="#606060"/>
<rect x="1206.81" y="395.9" width="2.8" height="2.2" fill="#707070"/>
<rect x="1198.59" y="383.35" width="4.85" height="19.8" rx="2.3" fill="#fff" stroke="#000" stroke-width="1.7"/>
<rect x="1175.8" y="382.2" width="20.02" height="22.7" rx="5.3" fill="#fff" stroke="#000" stroke-width="2.2"/>
<text x="1069.7" y="396.7" font-size="8.8" fill="#111" textLength="42.7" lengthAdjust="spacingAndGlyphs" stroke="#111" stroke-width="0.2">LED Tube</text>
<g transform="translate(975.2 341.7) scale(1.04 1)">
<path d="M0 -1.5 H16.3 V-3.3 L30.2 0 L16.3 3.3 V1.5 H0 Z" fill="#000"/>
<path d="M102.8 -1.5 H86.4 V-3.3 L72.6 0 L86.4 3.3 V1.5 H102.8 Z" fill="#000"/>
<text x="35.6" y="1.8" font-size="7.6" font-weight="bold" fill="#000" textLength="14.1" lengthAdjust="spacingAndGlyphs">(N)+</text>
<text x="55.8" y="1.8" font-size="7.6" font-weight="bold" fill="#000" textLength="10.9" lengthAdjust="spacingAndGlyphs">(L)-</text>
<text x="-13.3" y="11.1" font-size="5.9" font-weight="bold" fill="#000" textLength="52.4" lengthAdjust="spacingAndGlyphs">Usually White Wire</text>
<text x="63.9" y="12.1" font-size="5.9" font-weight="bold" fill="#000" textLength="51.4" lengthAdjust="spacingAndGlyphs">Usually Black Wire</text>
</g>
<text x="1060.1" y="428.4" font-size="19.2" font-weight="bold" fill="#000" textLength="60.6" lengthAdjust="spacingAndGlyphs">AFTER</text>
<path d="M438.4 449.3 L438.4 473.3 L471.5 473.3" fill="none" stroke="#000" stroke-width="1.3" stroke-linejoin="miter" stroke-linecap="butt"/>
<path d="M458.4 449.3 L458.4 468.3 L471.5 468.3" fill="none" stroke="#000" stroke-width="1.3" stroke-linejoin="miter" stroke-linecap="butt"/>
<path d="M546.4 464.3 L641.5 464.3 L641.5 510.2 L630.4 510.2" fill="none" stroke="#000" stroke-width="1.3" stroke-linejoin="miter" stroke-linecap="butt"/>
<path d="M546.4 468.3 L636.75 468.3 L636.75 503.3 L630.4 503.3" fill="none" stroke="#000" stroke-width="1.3" stroke-linejoin="miter" stroke-linecap="butt"/>
<path d="M546.4 474.3 L568.5 474.3 L568.5 489.3 L392.7 489.3 L392.7 503.1 L397.4 503.1" fill="none" stroke="#000" stroke-width="1.3" stroke-linejoin="miter" stroke-linecap="butt"/>
<path d="M546.4 479.3 L564.3 479.3 L564.3 485.3 L387.1 485.3 L387.1 510.4 L397.4 510.4" fill="none" stroke="#000" stroke-width="1.3" stroke-linejoin="miter" stroke-linecap="butt"/>
<rect x="439.1" y="496.4" width="150.3" height="22.6" fill="#c6c6c6"/>
<line x1="439.1" y1="496.8" x2="589.4" y2="496.8" stroke="#333" stroke-width="1.2"/>
<line x1="439.1" y1="518.7" x2="589.4" y2="518.7" stroke="#444" stroke-width="1.1"/>
<rect x="398.5" y="494.5" width="10.03" height="26.2" fill="#fff" stroke="#000" stroke-width="2.2"/>
<rect x="405.03" y="501" width="2.8" height="3" fill="#606060"/>
<rect x="405.03" y="510.8" width="2.8" height="2.2" fill="#707070"/>
<rect x="411.18" y="498.25" width="4.72" height="19.8" rx="2.3" fill="#fff" stroke="#000" stroke-width="1.7"/>
<rect x="418.65" y="497.1" width="19.55" height="22.7" rx="5.3" fill="#fff" stroke="#000" stroke-width="2.2"/>
<rect x="619.48" y="494.5" width="9.82" height="26.2" fill="#fff" stroke="#000" stroke-width="2.2"/>
<rect x="620.18" y="501" width="2.8" height="3" fill="#606060"/>
<rect x="620.18" y="510.8" width="2.8" height="2.2" fill="#707070"/>
<rect x="612.23" y="498.25" width="4.61" height="19.8" rx="2.3" fill="#fff" stroke="#000" stroke-width="1.7"/>
<rect x="590.3" y="497.1" width="19.19" height="22.7" rx="5.3" fill="#fff" stroke="#000" stroke-width="2.2"/>
<text x="482.25" y="510.8" font-size="8.8" fill="#111" textLength="72" lengthAdjust="spacingAndGlyphs" stroke="#111" stroke-width="0.2">Fluorescent Tube</text>
<g transform="translate(397.1 443.9) scale(1 1)">
<path d="M0 -1.5 H16.3 V-3.3 L30.2 0 L16.3 3.3 V1.5 H0 Z" fill="#000"/>
<path d="M102.8 -1.5 H86.4 V-3.3 L72.6 0 L86.4 3.3 V1.5 H102.8 Z" fill="#000"/>
<text x="35.6" y="1.8" font-size="7.6" font-weight="bold" fill="#000" textLength="14.1" lengthAdjust="spacingAndGlyphs">(N)+</text>
<text x="55.8" y="1.8" font-size="7.6" font-weight="bold" fill="#000" textLength="10.9" lengthAdjust="spacingAndGlyphs">(L)-</text>
<text x="-13.3" y="11.1" font-size="5.9" font-weight="bold" fill="#000" textLength="52.4" lengthAdjust="spacingAndGlyphs">Usually White Wire</text>
<text x="63.9" y="11.9" font-size="5.9" font-weight="bold" fill="#000" textLength="51.4" lengthAdjust="spacingAndGlyphs">Usually Black Wire</text>
</g>
<rect x="472.2" y="462.3" width="73.7" height="17.1" fill="#fff" stroke="#000" stroke-width="1.8"/>
<text x="476.9" y="474.7" font-size="10.5" fill="#111" textLength="66.8" lengthAdjust="spacingAndGlyphs" stroke="#111" stroke-width="0.35">Electronic Ballast</text>
<path d="M441.55 470.1 L447.75 476.9 M447.75 470.1 L441.55 476.9" stroke="#000" stroke-width="1.1" fill="none"/>
<path d="M460.2 464.9 L466.4 471.7 M466.4 464.9 L460.2 471.7" stroke="#000" stroke-width="1.1" fill="none"/>
<path d="M581.4 460.6 L587.6 467.4 M587.6 460.6 L581.4 467.4" stroke="#000" stroke-width="1.1" fill="none"/>
<path d="M596.15 465.1 L602.35 471.9 M602.35 465.1 L596.15 471.9" stroke="#000" stroke-width="1.1" fill="none"/>
<path d="M427.2 482 L433.4 488.8 M433.4 482 L427.2 488.8" stroke="#000" stroke-width="1.1" fill="none"/>
<path d="M441.5 485.9 L447.7 492.7 M447.7 485.9 L441.5 492.7" stroke="#000" stroke-width="1.1" fill="none"/>
<text x="537.7" y="451.9" font-size="8.6" fill="#111" textLength="100.1" lengthAdjust="spacingAndGlyphs" stroke="#111" stroke-width="0.15">X - Cut the wires at this point</text>
<text x="474.3" y="543.1" font-size="19.2" font-weight="bold" fill="#000" textLength="74.6" lengthAdjust="spacingAndGlyphs">BEFORE</text>
<path d="M1025.6 467 L1025.6 486.4 L970.6 486.4" fill="none" stroke="#000" stroke-width="1.3" stroke-linejoin="miter" stroke-linecap="butt"/>
<path d="M970.6 485.9 L970.6 516.6 L984.8 516.6" fill="none" stroke="#333" stroke-width="1" stroke-linejoin="miter" stroke-linecap="butt"/>
<path d="M977.4 486.4 L977.4 508.5 L982.6 508.5" fill="none" stroke="#555" stroke-width="1" stroke-linejoin="miter" stroke-linecap="butt"/>
<path d="M1044.6 467 L1044.6 486.3" fill="none" stroke="#000" stroke-width="1.3" stroke-linejoin="miter" stroke-linecap="butt"/>
<path d="M1044.6 486.3 L1229.5 486.3 L1229.5 515.9 L1217.4 515.9" fill="none" stroke="#777" stroke-width="1" stroke-linejoin="miter" stroke-linecap="butt"/>
<path d="M1222.7 486.3 L1222.7 507.2 L1217.4 507.2" fill="none" stroke="#777" stroke-width="0.9" stroke-linejoin="miter" stroke-linecap="butt"/>
<rect x="1025.5" y="500.5" width="150.2" height="22.6" fill="#c6c6c6"/>
<line x1="1025.5" y1="500.9" x2="1175.7" y2="500.9" stroke="#444" stroke-width="1.2"/>
<line x1="1025.5" y1="522.8" x2="1175.7" y2="522.8" stroke="#333" stroke-width="1.1"/>
<rect x="985.9" y="498.6" width="9.74" height="26.2" fill="#fff" stroke="#000" stroke-width="2.2"/>
<rect x="992.14" y="505.1" width="2.8" height="3" fill="#606060"/>
<rect x="992.14" y="514.9" width="2.8" height="2.2" fill="#707070"/>
<rect x="998.27" y="502.35" width="4.56" height="19.8" rx="2.3" fill="#fff" stroke="#000" stroke-width="1.7"/>
<rect x="1005.57" y="501.2" width="19.03" height="22.7" rx="5.3" fill="#fff" stroke="#000" stroke-width="2.2"/>
<rect x="1206.27" y="498.6" width="10.03" height="26.2" fill="#fff" stroke="#000" stroke-width="2.2"/>
<rect x="1206.97" y="505.1" width="2.8" height="3" fill="#606060"/>
<rect x="1206.97" y="514.9" width="2.8" height="2.2" fill="#707070"/>
<rect x="1198.9" y="502.35" width="4.72" height="19.8" rx="2.3" fill="#fff" stroke="#000" stroke-width="1.7"/>
<rect x="1176.6" y="501.2" width="19.55" height="22.7" rx="5.3" fill="#fff" stroke="#000" stroke-width="2.2"/>
<text x="1080.5" y="515.2" font-size="8.8" fill="#111" textLength="41.4" lengthAdjust="spacingAndGlyphs" stroke="#111" stroke-width="0.2">LED Tube</text>
<g transform="translate(983 461.7) scale(1.01 1)">
<path d="M0 -1.5 H16.3 V-3.3 L30.2 0 L16.3 3.3 V1.5 H0 Z" fill="#000"/>
<path d="M102.8 -1.5 H86.4 V-3.3 L72.6 0 L86.4 3.3 V1.5 H102.8 Z" fill="#000"/>
<text x="35.6" y="1.8" font-size="7.6" font-weight="bold" fill="#000" textLength="14.1" lengthAdjust="spacingAndGlyphs">(N)+</text>
<text x="55.8" y="1.8" font-size="7.6" font-weight="bold" fill="#000" textLength="10.9" lengthAdjust="spacingAndGlyphs">(L)-</text>
<text x="-13.3" y="12.6" font-size="5.9" font-weight="bold" fill="#000" textLength="52.4" lengthAdjust="spacingAndGlyphs">Usually White Wire</text>
<text x="63.9" y="13.5" font-size="5.9" font-weight="bold" fill="#000" textLength="51.4" lengthAdjust="spacingAndGlyphs">Usually Black Wire</text>
</g>
<text x="1060.1" y="543.4" font-size="19.2" font-weight="bold" fill="#000" textLength="60.6" lengthAdjust="spacingAndGlyphs">AFTER</text>
<text x="176.6" y="563.2" font-size="27.8" font-weight="bold" fill="#1a1a1a" textLength="68.3" lengthAdjust="spacingAndGlyphs" stroke="#1a1a1a" stroke-width="1.4">JESLED</text>
<text x="252.4" y="564.5" font-size="15.2" fill="#222" textLength="999.4" lengthAdjust="spacingAndGlyphs">If installing in fixtures with a ballast, please ensure your ballast is listed on our compatible ballast list T8 4Foot Type A+B LED light bulbs</text>
<text x="175.9" y="585.7" font-size="15.2" fill="#222" textLength="1144.1" lengthAdjust="spacingAndGlyphs">can be installed with a ballast ( Plug &amp; Play) or without a ballast (BALLAST BYPASS), and also have both single and double-ended connection compatibility.</text>
</svg>
</body></html>
